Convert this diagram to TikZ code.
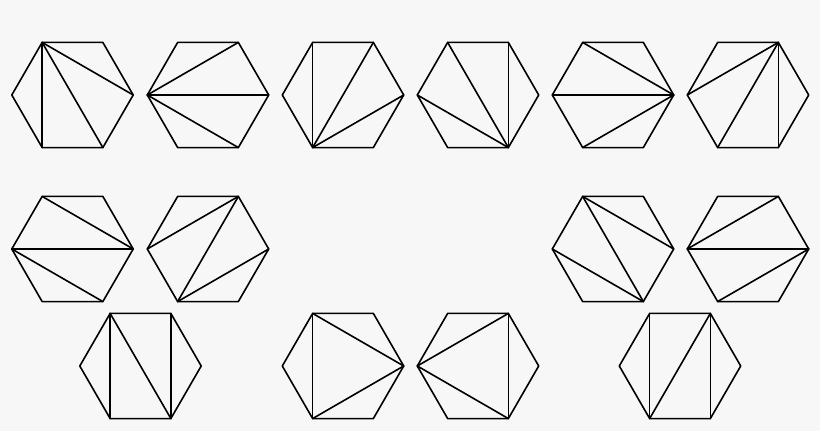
\documentclass[tikz,border=0pt]{standalone}
\tikzset{edge/.style={draw=black,line width=1.6pt,line join=round,line cap=round}}
\newcommand\hexagon[4]{%
  \begin{scope}[shift={(#2,#3)}]
    \foreach \k in {0,...,5} \coordinate (#1-\k) at (60*\k:60.7);
  \end{scope}
  \draw[edge] (#1-0)--(#1-1)--(#1-2)--(#1-3)--(#1-4)--(#1-5)--cycle;
  \foreach \a/\b in {#4} \draw[edge] (#1-\a)--(#1-\b);
}
\begin{document}
\begin{tikzpicture}[x=1pt,y=1pt]
\fill[fill={rgb,255:red,247;green,247;blue,247}] (0,0) rectangle (820,431);
\useasboundingbox (0,0) rectangle (820,431);
% row 1
\hexagon{h1}{72.5}{336}{2/4,2/5,2/0}
\hexagon{h2}{208}{336}{3/1,3/0,3/5}
\hexagon{h3}{343}{336}{4/2,4/1,4/0}
\hexagon{h4}{478}{336}{5/2,5/3,5/1}
\hexagon{h5}{613}{336}{0/2,0/3,0/4}
\hexagon{h6}{748}{336}{1/3,1/4,1/5}
% row 2
\hexagon{h7}{72.5}{182}{2/0,3/0,3/5}
\hexagon{h8}{208}{182}{3/1,1/4,4/0}
\hexagon{h9}{613}{182}{2/0,2/5,3/5}
\hexagon{h10}{748}{182}{3/1,3/0,4/0}
% row 3
\hexagon{h11}{140.5}{65}{2/4,2/5,1/5}
\hexagon{h12}{343}{65}{2/4,2/0,4/0}
\hexagon{h13}{478}{65}{3/1,3/5,1/5}
\hexagon{h14}{680}{65}{2/4,4/1,1/5}
\end{tikzpicture}
\end{document}
